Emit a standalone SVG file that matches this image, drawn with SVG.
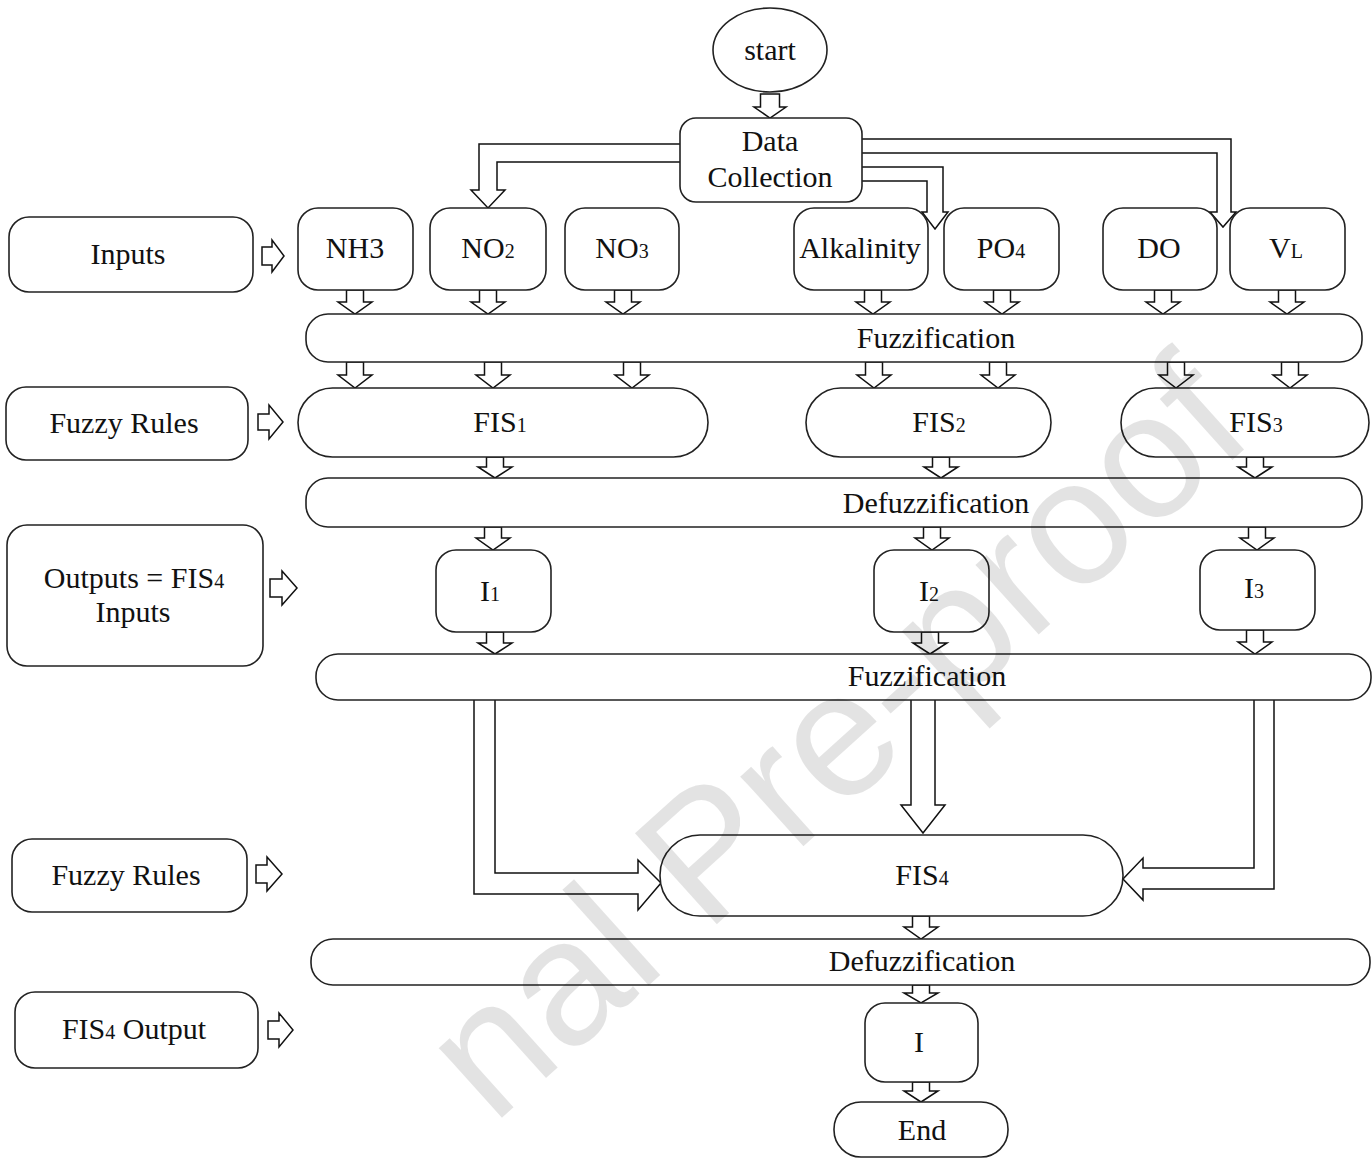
<svg xmlns="http://www.w3.org/2000/svg" width="1372" height="1158" viewBox="0 0 1372 1158">
<style>
.n{fill:#fff;stroke:#222;stroke-width:1.6}
.a{fill:#fff;stroke:#111;stroke-width:1.5;stroke-linejoin:miter}
.t{font-family:"Liberation Serif","Times New Roman",serif;font-size:30px;fill:#111;text-anchor:middle}
.s{font-size:20px}
.wm{font-family:"Liberation Sans",Arial,sans-serif;font-size:178px;fill:#000;fill-opacity:0.11}
</style>
<rect width="1372" height="1158" fill="#fff"/>

<g id="connectors">
  <path class="a" d="M760.5,94 H779.5 V107 H786 L770,118 L754,107 H760.5Z"/>
  <path class="a" d="M680,144 H479 V190 H471 L488,208 L505,190 H497 V162 H680"/>
  <path class="a" d="M862,167 H943 V212 H948 L935,229 L922,212 H927 V181 H862"/>
  <path class="a" d="M862,139 H1231 V212 H1236 L1223,227 L1210,212 H1217 V153 H862"/>
  <!-- row A -->
  <path class="a" d="M346.5,290 H363.5 V302 H372 L355,314 L338,302 H346.5Z"/>
  <path class="a" d="M479.5,290 H496.5 V302 H505 L488,314 L471,302 H479.5Z"/>
  <path class="a" d="M614.5,290 H631.5 V302 H640 L623,314 L606,302 H614.5Z"/>
  <path class="a" d="M864.5,290 H881.5 V302 H890 L873,314 L856,302 H864.5Z"/>
  <path class="a" d="M993.5,290 H1010.5 V302 H1019 L1002,314 L985,302 H993.5Z"/>
  <path class="a" d="M1154.5,290 H1171.5 V302 H1180 L1163,314 L1146,302 H1154.5Z"/>
  <path class="a" d="M1278.5,290 H1295.5 V302 H1304 L1287,314 L1270,302 H1278.5Z"/>
  <!-- row B -->
  <path class="a" d="M346.5,362 H363.5 V375 H372 L355,388 L338,375 H346.5Z"/>
  <path class="a" d="M484.5,362 H501.5 V375 H510 L493,388 L476,375 H484.5Z"/>
  <path class="a" d="M623.5,362 H640.5 V375 H649 L632,388 L615,375 H623.5Z"/>
  <path class="a" d="M865.5,362 H882.5 V375 H891 L874,388 L857,375 H865.5Z"/>
  <path class="a" d="M989.5,362 H1006.5 V375 H1015 L998,388 L981,375 H989.5Z"/>
  <path class="a" d="M1167.5,362 H1184.5 V375 H1193 L1176,388 L1159,375 H1167.5Z"/>
  <path class="a" d="M1281.5,362 H1298.5 V375 H1307 L1290,388 L1273,375 H1281.5Z"/>
  <!-- row C -->
  <path class="a" d="M486.5,457 H503.5 V467 H512 L495,478 L478,467 H486.5Z"/>
  <path class="a" d="M932.5,457 H949.5 V467 H958 L941,478 L924,467 H932.5Z"/>
  <path class="a" d="M1246.5,457 H1263.5 V467 H1272 L1255,478 L1238,467 H1246.5Z"/>
  <!-- row D -->
  <path class="a" d="M484.5,527 H501.5 V538 H510 L493,550 L476,538 H484.5Z"/>
  <path class="a" d="M923.5,527 H940.5 V538 H949 L932,550 L915,538 H923.5Z"/>
  <path class="a" d="M1248.5,527 H1265.5 V538 H1274 L1257,550 L1240,538 H1248.5Z"/>
  <!-- row E -->
  <path class="a" d="M486.5,632 H503.5 V643 H512 L495,654 L478,643 H486.5Z"/>
  <path class="a" d="M921.5,632 H938.5 V643 H947 L930,654 L913,643 H921.5Z"/>
  <path class="a" d="M1246.5,630 H1263.5 V642 H1272 L1255,654 L1238,642 H1246.5Z"/>
  <!-- to FIS4 -->
  <path class="a" d="M474,700 V894 H638 V910 L661,883 L638,860 V873 H495 V700"/>
  <path class="a" d="M911,700 V805 H901 L923,833 L945,805 H935 V700"/>
  <path class="a" d="M1274,700 V889 H1143 V900 L1123,879 L1143,858 V868 H1254 V700"/>
  <!-- bottom chain -->
  <path class="a" d="M912.5,916 H929.5 V927 H938 L921,939 L904,927 H912.5Z"/>
  <path class="a" d="M912.5,985 H929.5 V993 H938 L921,1003 L904,993 H912.5Z"/>
  <path class="a" d="M912.5,1082 H929.5 V1091 H938 L921,1102 L904,1091 H912.5Z"/>
  <!-- side arrows -->
  <path class="a" d="M262,247 H272 V240 L284,256 L272,272 V265 H262Z"/>
  <path class="a" d="M258,414 H269 V405 L283,422 L269,439 V430 H258Z"/>
  <path class="a" d="M270,579 H282 V571 L297,588 L282,605 V597 H270Z"/>
  <path class="a" d="M256,865 H267 V857 L282,874 L267,891 V883 H256Z"/>
  <path class="a" d="M268,1021 H279 V1013 L293,1030 L279,1047 V1039 H268Z"/>
</g>

<g id="start"><ellipse class="n" cx="770" cy="50" rx="57" ry="42"/><text class="t" x="770" y="60">start</text></g>
<g id="data-collection"><rect class="n" x="680" y="118" width="182" height="84" rx="16"/><text class="t" x="770" y="151">Data</text><text class="t" x="770" y="187">Collection</text></g>

<g id="nh3"><rect class="n" x="298" y="208" width="115" height="82" rx="20"/><text class="t" x="355" y="258">NH3</text></g>
<g id="no2"><rect class="n" x="430" y="208" width="116" height="82" rx="20"/><text class="t" x="488" y="258">NO<tspan class="s">2</tspan></text></g>
<g id="no3"><rect class="n" x="565" y="208" width="114" height="82" rx="20"/><text class="t" x="622" y="258">NO<tspan class="s">3</tspan></text></g>
<g id="alkalinity"><rect class="n" x="794" y="208" width="134" height="82" rx="20"/><text class="t" x="860" y="258">Alkalinity</text></g>
<g id="po4"><rect class="n" x="944" y="208" width="115" height="82" rx="20"/><text class="t" x="1001" y="258">PO<tspan class="s">4</tspan></text></g>
<g id="do"><rect class="n" x="1103" y="208" width="114" height="82" rx="20"/><text class="t" x="1159" y="258">DO</text></g>
<g id="vl"><rect class="n" x="1230" y="208" width="115" height="82" rx="20"/><text class="t" x="1286" y="258">V<tspan class="s">L</tspan></text></g>

<g id="fuzzification-1"><rect class="n" x="306" y="314" width="1056" height="48" rx="22"/><text class="t" x="936" y="348">Fuzzification</text></g>

<g id="fis1"><rect class="n" x="298" y="388" width="410" height="69" rx="34.5"/><text class="t" x="500" y="432">FIS<tspan class="s">1</tspan></text></g>
<g id="fis2"><rect class="n" x="806" y="388" width="245" height="69" rx="34.5"/><text class="t" x="939" y="432">FIS<tspan class="s">2</tspan></text></g>
<g id="fis3"><rect class="n" x="1121" y="388" width="248" height="69" rx="34.5"/><text class="t" x="1256" y="432">FIS<tspan class="s">3</tspan></text></g>

<g id="defuzzification-1"><rect class="n" x="306" y="478" width="1056" height="49" rx="22"/><text class="t" x="936" y="513">Defuzzification</text></g>

<g id="i1"><rect class="n" x="436" y="550" width="115" height="82" rx="20"/><text class="t" x="490" y="601">I<tspan class="s">1</tspan></text></g>
<g id="i2"><rect class="n" x="874" y="550" width="115" height="82" rx="20"/><text class="t" x="929" y="601">I<tspan class="s">2</tspan></text></g>
<g id="i3"><rect class="n" x="1200" y="550" width="115" height="80" rx="20"/><text class="t" x="1254" y="598">I<tspan class="s">3</tspan></text></g>

<g id="fuzzification-2"><rect class="n" x="316" y="654" width="1055" height="46" rx="22"/><text class="t" x="927" y="686">Fuzzification</text></g>

<g id="fis4"><rect class="n" x="660" y="835" width="463" height="81" rx="40"/><text class="t" x="922" y="885">FIS<tspan class="s">4</tspan></text></g>

<g id="defuzzification-2"><rect class="n" x="311" y="939" width="1059" height="46" rx="22"/><text class="t" x="922" y="971">Defuzzification</text></g>

<g id="i"><rect class="n" x="865" y="1003" width="113" height="79" rx="20"/><text class="t" x="919" y="1052">I</text></g>
<g id="end"><rect class="n" x="834" y="1102" width="174" height="55" rx="27"/><text class="t" x="922" y="1140">End</text></g>

<g id="inputs-label"><rect class="n" x="9" y="217" width="244" height="75" rx="20"/><text class="t" x="128" y="264">Inputs</text></g>
<g id="fuzzy-rules-1"><rect class="n" x="6" y="387" width="242" height="73" rx="20"/><text class="t" x="124" y="433">Fuzzy Rules</text></g>
<g id="outputs-label"><rect class="n" x="7" y="525" width="256" height="141" rx="20"/><text class="t" x="134" y="588">Outputs = FIS<tspan class="s">4</tspan></text><text class="t" x="133" y="622">Inputs</text></g>
<g id="fuzzy-rules-2"><rect class="n" x="12" y="839" width="235" height="73" rx="20"/><text class="t" x="126" y="885">Fuzzy Rules</text></g>
<g id="fis4-output"><rect class="n" x="15" y="992" width="243" height="76" rx="20"/><text class="t" x="134" y="1039">FIS<tspan class="s">4</tspan> Output</text></g>

<text class="wm" transform="translate(706,934) rotate(-42)" x="-287" y="0">nal Pre-proof</text>
</svg>
